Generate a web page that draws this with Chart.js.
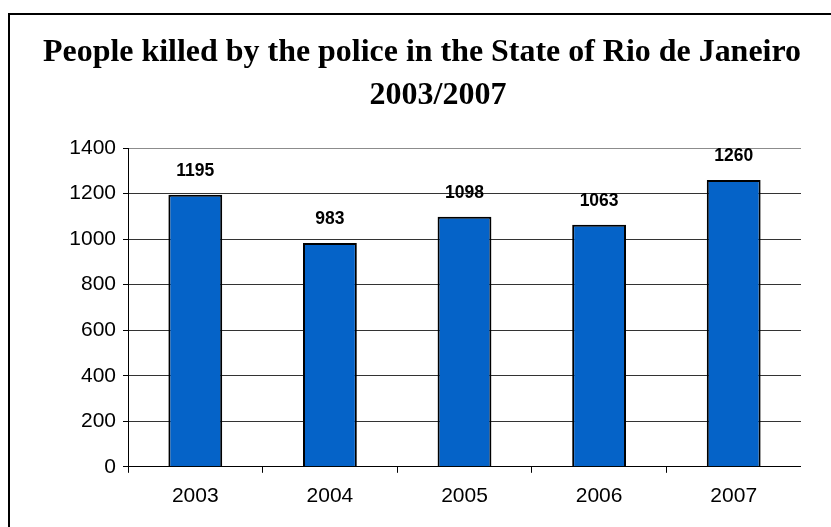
<!DOCTYPE html>
<html>
<head>
<meta charset="utf-8">
<title>People killed by the police - Rio de Janeiro</title>
<script src="https://cdn.jsdelivr.net/npm/chart.js@4.4.1/dist/chart.umd.min.js"></script>
<style>
  html, body { margin: 0; padding: 0; background: #fff; overflow: hidden; }
  #marco {
    position: absolute; left: 8px; top: 13px; width: 900px; height: 600px;
    border-left: 2px solid #000; border-top: 2px solid #000;
  }
  #grafico { position: absolute; left: 43px; top: 0; }
</style>
</head>
<body>
<div id="marco"></div>
<canvas id="grafico" width="758" height="527"></canvas>
<script>
const anios = ["2003", "2004", "2005", "2006", "2007"];
const muertos = [1195, 983, 1098, 1063, 1260];
const lineasTitulo = ["People killed by the police in the State of Rio de Janeiro", "    2003/2007"];

// etiquetas encima de cada barra
const etiquetasBarras = {
  id: "etiquetasBarras",
  afterDatasetsDraw(chart) {
    const ctx = chart.ctx;
    const meta = chart.getDatasetMeta(0);
    ctx.save();
    ctx.font = "bold 17.5px 'Liberation Sans', Arial, sans-serif";
    ctx.fillStyle = "#000";
    ctx.textAlign = "center";
    ctx.textBaseline = "middle";
    meta.data.forEach((barra, i) => {
      ctx.fillText(String(muertos[i]), barra.x, barra.y - 24);
    });
    ctx.restore();
  },
};

function crearGrafico() {
  const ctx = document.getElementById("grafico").getContext("2d");
  new Chart(ctx, {
    type: "bar",
    data: {
      labels: anios,
      datasets: [
        {
          data: muertos,
          backgroundColor: "#0563C8",
          borderColor: "#000",
          borderWidth: 2,
          barPercentage: 0.4,
          categoryPercentage: 1,
        },
      ],
    },
    options: {
      responsive: false,
      animation: false,
      layout: { padding: { left: 0, right: 0, top: 0, bottom: 7 } },
      plugins: {
        legend: { display: false },
        tooltip: { enabled: false },
        title: {
          display: true,
          text: lineasTitulo,
          color: "#000",
          font: { family: "'Liberation Serif', 'Times New Roman', serif", size: 32, weight: "bold", lineHeight: 1.35 },
          padding: { top: 31.4, bottom: 30.2 },
        },
      },
      scales: {
        x: {
          grid: {
            offset: true,
            drawOnChartArea: true,
            color: (c) => (c.index === anios.length ? "#999" : "rgba(0,0,0,0)"),
            tickColor: "#000",
            tickLength: 6,
          },
          border: { color: "#000", width: 1 },
          ticks: {
            color: "#000",
            padding: 11,
            font: { family: "'Liberation Sans', Arial, sans-serif", size: 21 },
          },
        },
        y: {
          min: 0,
          max: 1400,
          afterFit: (escala) => { escala.width = 85; },
          grid: {
            color: (c) => (c.tick && c.tick.value === 1400 ? "#8c8c8c" : "#333"),
            tickColor: "#000",
            tickLength: 5,
          },
          border: { color: "#000", width: 1 },
          ticks: {
            stepSize: 200,
            color: "#000",
            padding: 7,
            callback: (valor) => String(valor),
            font: { family: "'Liberation Sans', Arial, sans-serif", size: 21 },
          },
        },
      },
    },
    plugins: [etiquetasBarras],
  });
}

document.addEventListener("DOMContentLoaded", crearGrafico);
</script>
</body>
</html>
